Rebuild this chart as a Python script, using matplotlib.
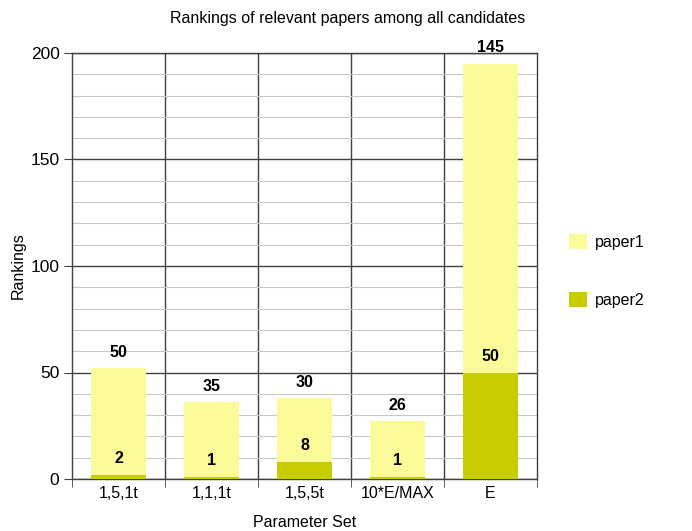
import matplotlib
matplotlib.use("Agg")
import matplotlib.pyplot as plt
from matplotlib.patches import Patch
import numpy as np

categories = ["1,5,1t", "1,1,1t", "1,5,5t", "10*E/MAX", "E"]
paper2 = [2, 1, 8, 1, 50]
paper1 = [50, 35, 30, 26, 145]

plt.rcParams['font.family'] = ['Liberation Sans', 'DejaVu Sans']

c1 = '#FAFB98'
c2 = '#C8CD00'

fig = plt.figure(figsize=(6.92, 5.31), dpi=100)
ax = fig.add_axes([72/692, 1-479/531, (537-72)/692, (479-53)/531])

x = np.arange(len(categories))
w = 0.59
ax.bar(x, paper2, width=w, color=c2, zorder=3)
ax.bar(x, paper1, width=w, bottom=paper2, color=c1, zorder=3)

for xi, a, b in zip(x, paper2, paper1):
    ax.text(xi, a + 4, str(a), ha='center', va='bottom', fontsize=11.5, fontweight='bold', zorder=4)
    ax.text(xi, a + b + 4, str(b), ha='center', va='bottom', fontsize=11.5, fontweight='bold', zorder=4, clip_on=False)

ax.set_xlim(-0.5, len(categories) - 0.5)
ax.set_ylim(0, 200)
ax.set_yticks([0, 50, 100, 150, 200])
ax.set_yticks(np.arange(0, 201, 10), minor=True)
ax.grid(axis='y', which='minor', color='#C8C8C8', linewidth=0.8, zorder=1)
ax.grid(axis='y', which='major', color='#404040', linewidth=1.0, zorder=1)
for b in np.arange(0.5, len(categories) - 0.5, 1):
    ax.axvline(b, color='#404040', linewidth=1.0, zorder=1)

ax.set_xticks(x)
ax.set_xticklabels(categories, fontsize=11.5)
ax.tick_params(axis='x', length=0, pad=5)
ax.set_xticks(np.arange(-0.5, len(categories), 1), minor=True)
ax.tick_params(axis='x', which='minor', length=6, color='#404040')
ax.tick_params(axis='y', which='major', length=6, color='#404040', labelsize=12.5, pad=3)
ax.tick_params(axis='y', which='minor', length=0)

for s in ax.spines.values():
    s.set_color('#404040')
    s.set_linewidth(1.0)

ax.set_ylabel('Rankings', fontsize=11.5, labelpad=3)
ax.set_xlabel('Parameter Set', fontsize=11.5, labelpad=10)
fig.text(348/692, 1 - 18/531, 'Rankings of relevant papers among all candidates',
         ha='center', va='center', fontsize=11.5)

handles = [Patch(facecolor=c1, edgecolor='none'), Patch(facecolor=c2, edgecolor='none')]
fig.legend(handles, ['paper1', 'paper2'], loc='center left', bbox_to_anchor=(555/692, 1 - 271/531),
           frameon=False, fontsize=11.5, labelspacing=2.6, handlelength=1.1, handleheight=1.1, handletextpad=0.5)

fig.savefig('out.png', dpi=100)
